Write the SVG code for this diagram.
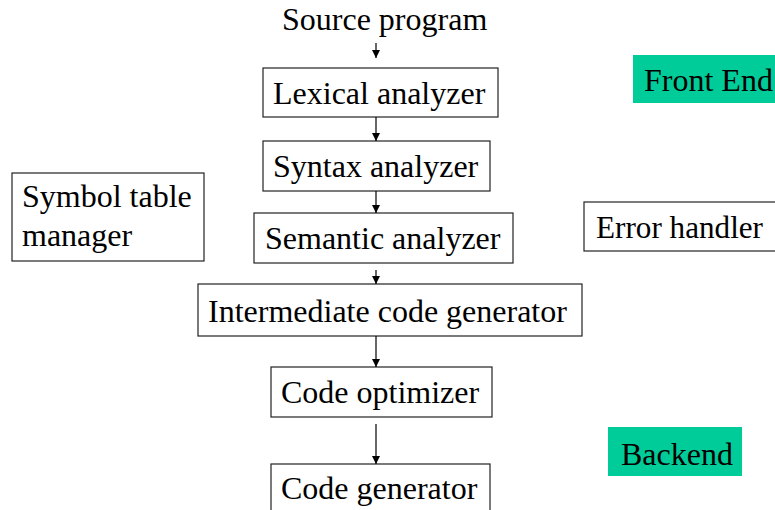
<svg xmlns="http://www.w3.org/2000/svg" width="775" height="510" viewBox="0 0 775 510">
<style>
  text { font-family: "Liberation Serif", "Times New Roman", serif; font-size: 32px; fill: #000; }
  .box { fill: #fff; stroke: #222; stroke-width: 1.2; }
  .tag { fill: #00CC99; stroke: none; }
  .edge { stroke: #000; stroke-width: 1.2; fill: none; marker-end: url(#arr); }
</style>
<defs>
  <marker id="arr" viewBox="0 0 8 10" refX="8" refY="5" markerWidth="8" markerHeight="10" markerUnits="userSpaceOnUse" orient="auto">
    <path d="M0,1 L8,5 L0,9 z" fill="#000"/>
  </marker>
</defs>
<rect width="775" height="510" fill="#fff"/>

<g id="source">
  <text x="282" y="30">Source program</text>
</g>
<g id="lexical">
  <rect class="box" x="263" y="68" width="235" height="49"/>
  <text x="273" y="104">Lexical analyzer</text>
</g>
<g id="syntax">
  <rect class="box" x="263" y="141" width="227" height="50"/>
  <text x="273" y="177">Syntax analyzer</text>
</g>
<g id="semantic">
  <rect class="box" x="254" y="213" width="259" height="50"/>
  <text x="265" y="249">Semantic analyzer</text>
</g>
<g id="intermediate">
  <rect class="box" x="198" y="284" width="384" height="52"/>
  <text x="208" y="322">Intermediate code generator</text>
</g>
<g id="optimizer">
  <rect class="box" x="271" y="367" width="221" height="50"/>
  <text x="281" y="403">Code optimizer</text>
</g>
<g id="generator">
  <rect class="box" x="271" y="464" width="219" height="60"/>
  <text x="281" y="499">Code generator</text>
</g>
<g id="symbol">
  <rect class="box" x="12" y="173" width="192" height="88"/>
  <text x="22" y="207">Symbol table</text>
  <text x="22" y="246">manager</text>
</g>
<g id="error">
  <rect class="box" x="584" y="202" width="200" height="49"/>
  <text x="596" y="238" textLength="167" lengthAdjust="spacingAndGlyphs">Error handler</text>
</g>
<g id="frontend">
  <rect class="tag" x="633" y="55" width="150" height="48"/>
  <text x="644" y="91">Front End</text>
</g>
<g id="backend">
  <rect class="tag" x="608" y="427" width="134" height="49"/>
  <text x="621" y="465">Backend</text>
</g>

<g id="connectors">
  <line class="edge" x1="376" y1="43" x2="376" y2="58"/>
  <line class="edge" x1="376" y1="117" x2="376" y2="141"/>
  <line class="edge" x1="376" y1="191" x2="376" y2="213"/>
  <line class="edge" x1="376" y1="270" x2="376" y2="284"/>
  <line class="edge" x1="376" y1="336" x2="376" y2="367"/>
  <line class="edge" x1="376" y1="424" x2="376" y2="464"/>
</g>
</svg>
